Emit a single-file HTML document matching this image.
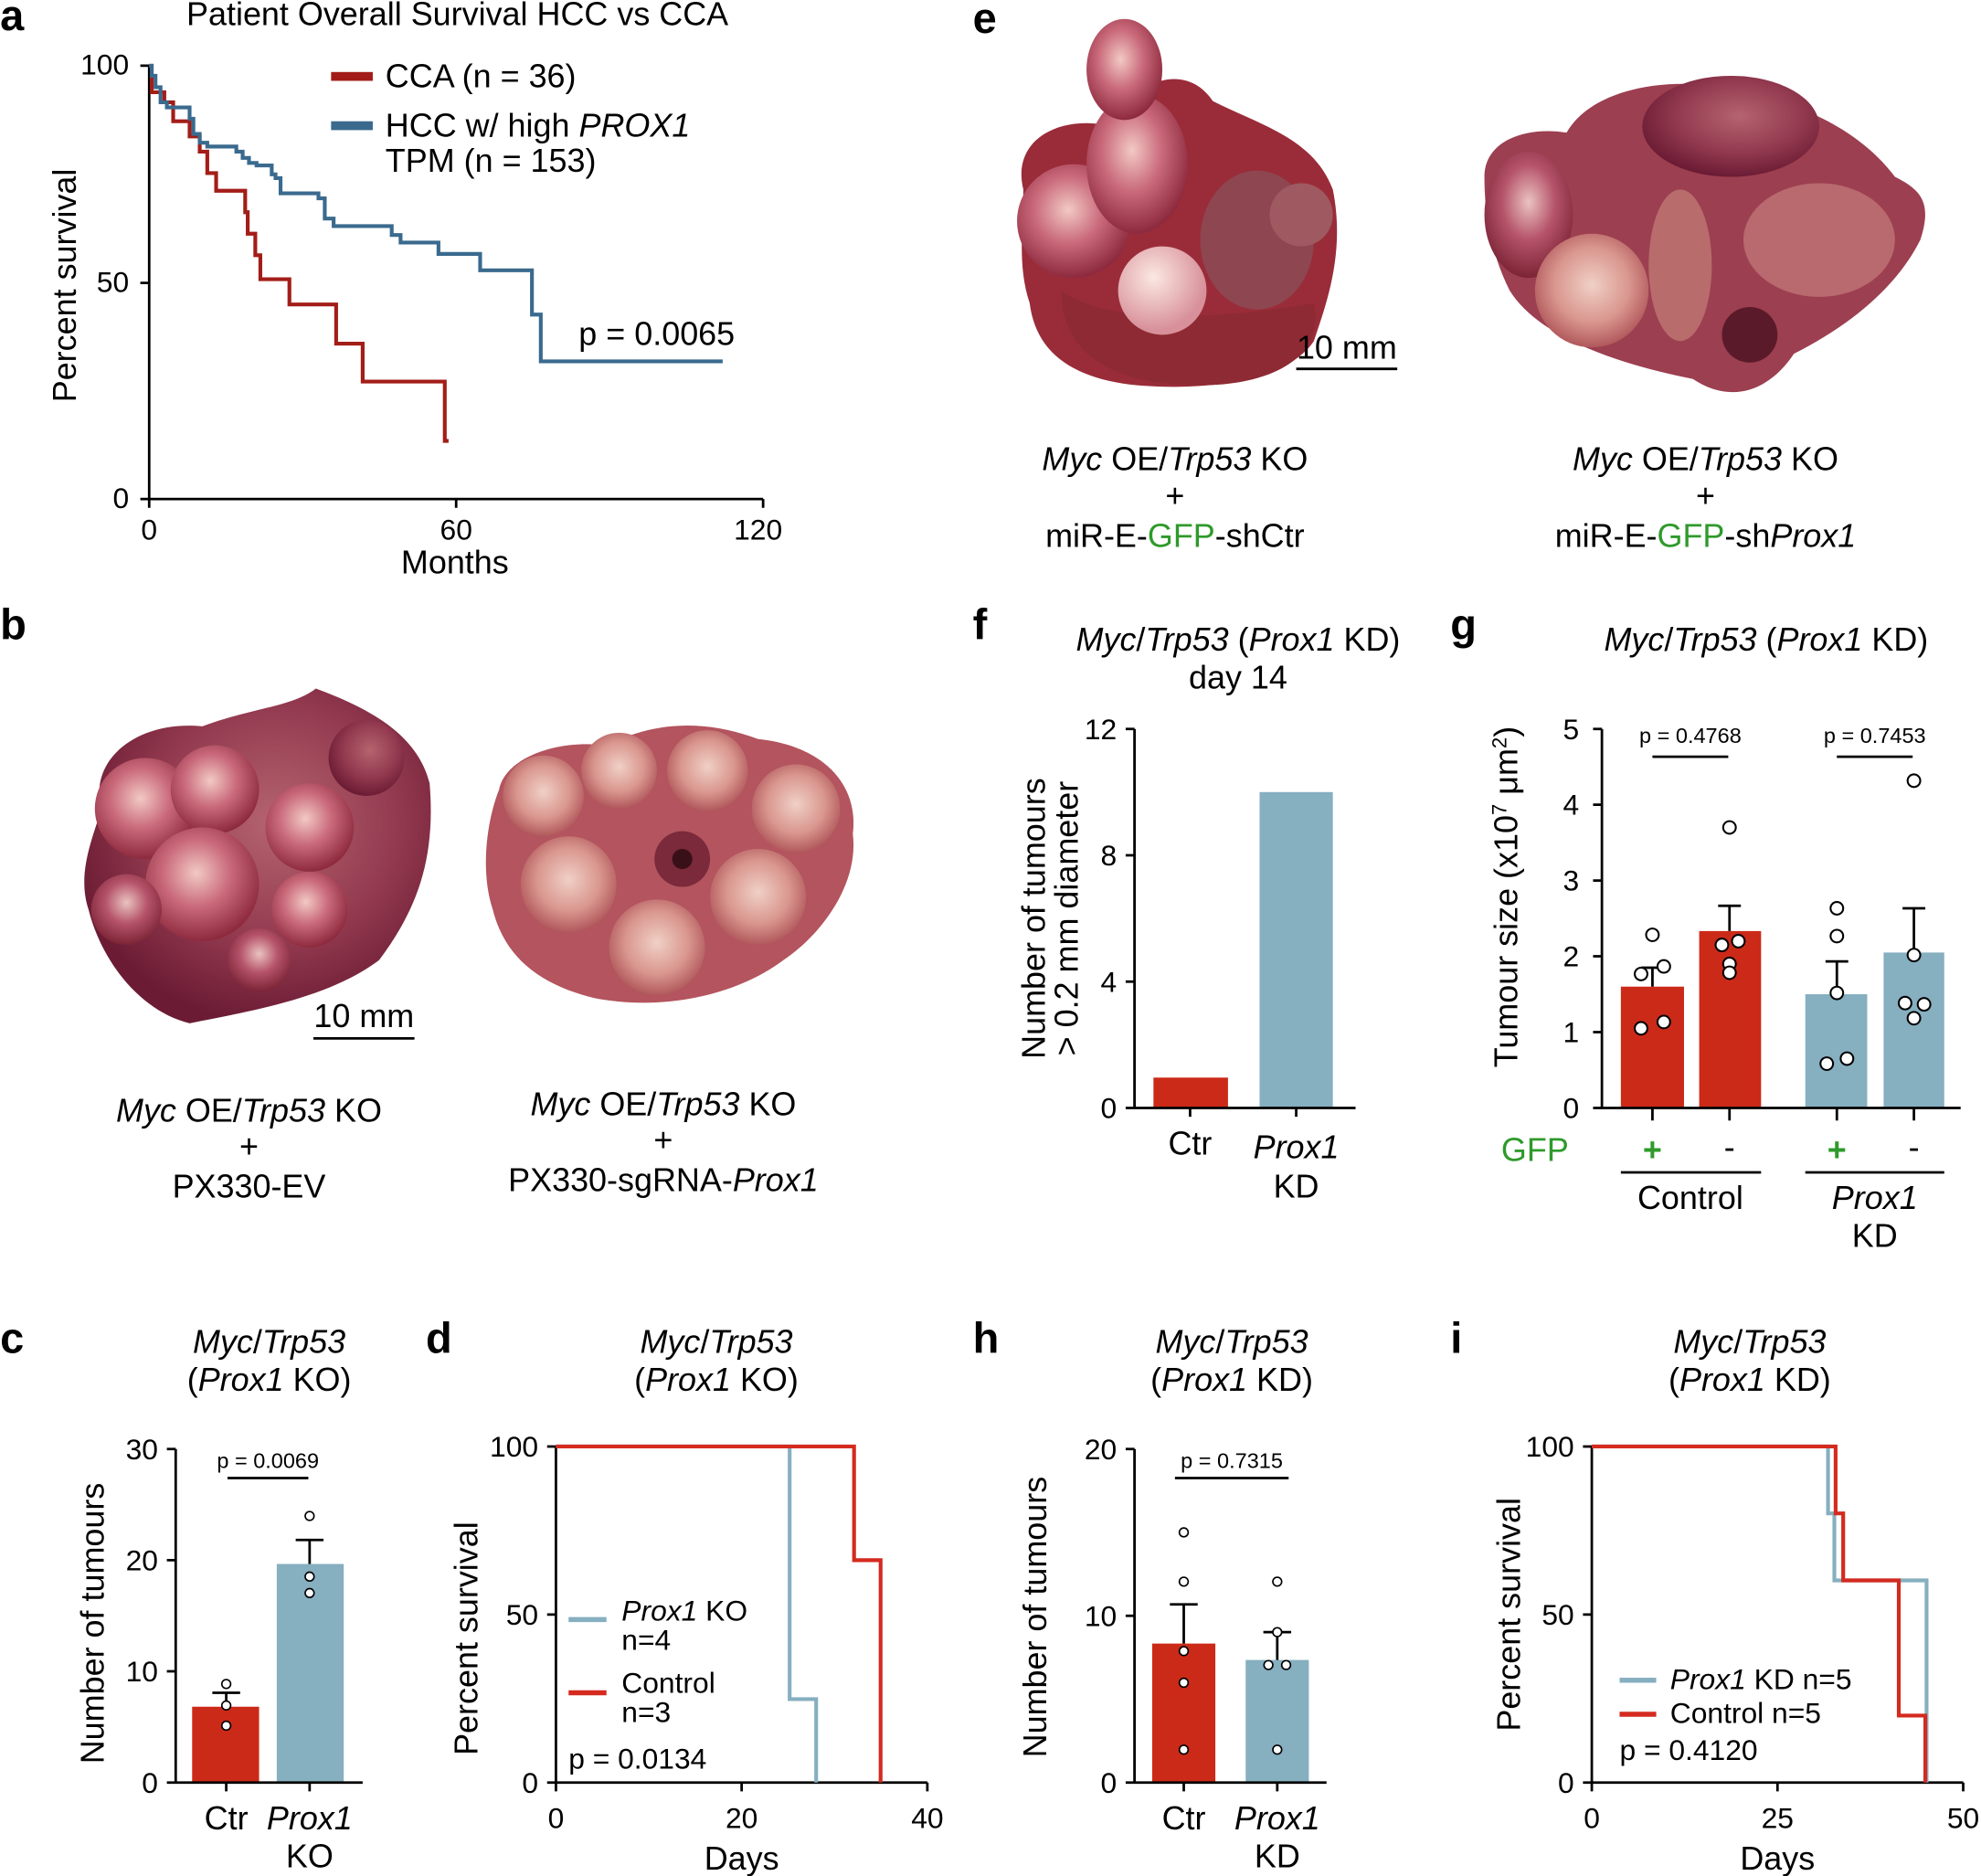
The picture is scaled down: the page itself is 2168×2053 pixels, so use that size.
<!DOCTYPE html>
<html><head><meta charset="utf-8"><style>
html,body{margin:0;padding:0;background:#fff}
svg{display:block}
text{font-family:"Liberation Sans",sans-serif;fill:#000}
.pl{font-weight:bold;font-size:34px}
.t{font-size:26px}
.k{font-size:23px}
.s{font-size:17px}
</style></head><body>
<svg width="2168" height="2053" viewBox="0 0 1568 1485" xmlns="http://www.w3.org/2000/svg">
<defs>
<radialGradient id="lv1" cx="45%" cy="40%" r="60%"><stop offset="0" stop-color="#f2c9c4"/><stop offset="0.5" stop-color="#c9697a"/><stop offset="1" stop-color="#8e2a3e"/></radialGradient>
<radialGradient id="lv2" cx="50%" cy="45%" r="60%"><stop offset="0" stop-color="#f0d0c6"/><stop offset="0.55" stop-color="#d9968e"/><stop offset="1" stop-color="#a84a50"/></radialGradient>
<radialGradient id="lv3" cx="50%" cy="40%" r="60%"><stop offset="0" stop-color="#eac3c0"/><stop offset="0.5" stop-color="#b5536a"/><stop offset="1" stop-color="#7c2436"/></radialGradient>
<radialGradient id="lv4" cx="55%" cy="40%" r="60%"><stop offset="0" stop-color="#b5646f"/><stop offset="0.6" stop-color="#92394f"/><stop offset="1" stop-color="#6b1c34"/></radialGradient>
<radialGradient id="nod" cx="40%" cy="35%" r="60%"><stop offset="0" stop-color="#fbe8e2"/><stop offset="1" stop-color="#d8909a"/></radialGradient>
</defs>

<!-- Panel a -->
<text class="pl" x="0" y="24">a</text>
<text class="t" x="362" y="20" text-anchor="middle">Patient Overall Survival HCC vs CCA</text>
<g stroke="#000" stroke-width="2" fill="none">
<path d="M118,52 V395 H604"/>
<path d="M111,52 H118 M111,224 H118 M111,395 H118 M118,395 V402 M361,395 V402 M604,395 V402"/>
</g>
<text class="k" x="102" y="59" text-anchor="end">100</text>
<text class="k" x="102" y="231" text-anchor="end">50</text>
<text class="k" x="102" y="402" text-anchor="end">0</text>
<text class="k" x="118" y="427" text-anchor="middle">0</text>
<text class="k" x="361" y="427" text-anchor="middle">60</text>
<text class="k" x="600" y="427" text-anchor="middle">120</text>
<text class="t" x="360" y="454" text-anchor="middle">Months</text>
<text class="t" transform="translate(60,226) rotate(-90)" text-anchor="middle">Percent survival</text>
<path d="M118,52 H120 V73 H130 V81 H137 V96 H150 V108 H158 V120 H164 V137 H171 V151 H194 V168 H196 V185 H202 V202 H206 V221 H229 V241 H266 V272 H287 V302 H352 V349 H355" fill="none" stroke="#a31d18" stroke-width="3"/>
<path d="M118,52 H120 V60 H123 V69 H127 V81 H132 V85 H150 V94 H153 V106 H158 V113 H164 V116 H187 V120 H192 V125 H197 V129 H203 V131 H215 V138 H218 V141 H222 V153 H252 V157 H257 V173 H264 V179 H310 V186 H317 V192 H347 V201 H380 V214 H421 V249 H428 V286 H572" fill="none" stroke="#3a6a8e" stroke-width="3"/>
<rect x="262" y="57" width="33" height="7" fill="#a31d18"/>
<rect x="262" y="96" width="33" height="7" fill="#3a6a8e"/>
<text class="t" x="305" y="69">CCA (n = 36)</text>
<text class="t" x="305" y="108">HCC w/ high <tspan font-style="italic">PROX1</tspan></text>
<text class="t" x="305" y="136">TPM (n = 153)</text>
<text class="t" x="458" y="273">p = 0.0065</text>

<!-- Panel b -->
<text class="pl" x="0" y="506">b</text>
<g>
<path d="M80,640 C70,600 110,570 160,575 C200,560 230,560 250,545 C290,560 330,580 340,620 C345,680 330,720 300,760 C260,790 200,800 150,810 C110,800 80,760 70,720 C60,690 75,660 80,640Z" fill="url(#lv4)"/>
<circle cx="115" cy="640" r="40" fill="url(#lv1)"/>
<circle cx="170" cy="625" r="35" fill="url(#lv1)"/>
<circle cx="160" cy="700" r="45" fill="url(#lv1)"/>
<circle cx="245" cy="655" r="35" fill="url(#lv1)"/>
<circle cx="245" cy="720" r="30" fill="url(#lv1)"/>
<circle cx="100" cy="720" r="28" fill="url(#lv3)"/>
<circle cx="205" cy="760" r="25" fill="url(#lv3)"/>
<circle cx="290" cy="600" r="30" fill="url(#lv4)"/>
</g>
<g>
<path d="M395,625 C400,600 440,585 480,590 C520,570 560,570 600,585 C650,590 680,620 675,660 C680,700 650,740 620,760 C580,790 520,800 470,790 C430,780 400,760 390,720 C380,690 385,650 395,625Z" fill="#b3545e"/>
<circle cx="430" cy="630" r="32" fill="url(#lv2)"/>
<circle cx="490" cy="610" r="30" fill="url(#lv2)"/>
<circle cx="560" cy="610" r="32" fill="url(#lv2)"/>
<circle cx="630" cy="640" r="35" fill="url(#lv2)"/>
<circle cx="450" cy="700" r="38" fill="url(#lv2)"/>
<circle cx="600" cy="710" r="38" fill="url(#lv2)"/>
<circle cx="520" cy="750" r="38" fill="url(#lv2)"/>
<circle cx="540" cy="680" r="22" fill="#7a2a3a"/>
<circle cx="540" cy="680" r="8" fill="#3a1018"/>
</g>
<line x1="248" y1="822" x2="328" y2="822" stroke="#000" stroke-width="2"/>
<text class="t" x="288" y="813" text-anchor="middle">10 mm</text>
<text class="t" x="197" y="888" text-anchor="middle"><tspan font-style="italic">Myc</tspan> OE/<tspan font-style="italic">Trp53</tspan> KO</text>
<text class="t" x="197" y="916" text-anchor="middle">+</text>
<text class="t" x="197" y="948" text-anchor="middle">PX330-EV</text>
<text class="t" x="525" y="883" text-anchor="middle"><tspan font-style="italic">Myc</tspan> OE/<tspan font-style="italic">Trp53</tspan> KO</text>
<text class="t" x="525" y="911" text-anchor="middle">+</text>
<text class="t" x="525" y="943" text-anchor="middle">PX330-sgRNA-<tspan font-style="italic">Prox1</tspan></text>

<!-- Panel e -->
<text class="pl" x="770" y="26">e</text>
<g>
<path d="M810,150 C800,110 840,90 880,100 C900,60 940,50 960,80 C1000,100 1040,110 1055,150 C1065,200 1050,240 1040,270 C1020,300 960,310 900,305 C850,300 820,280 815,240 C805,210 810,180 810,150Z" fill="#9a2c3a"/>
<path d="M840,230 C880,260 980,250 1040,240 C1050,280 1010,305 950,305 C880,305 840,280 840,230Z" fill="#8e2a33"/>
<circle cx="850" cy="175" r="45" fill="url(#lv1)"/>
<ellipse cx="900" cy="130" rx="40" ry="55" fill="url(#lv1)"/>
<ellipse cx="890" cy="55" rx="30" ry="40" fill="url(#lv1)"/>
<ellipse cx="995" cy="190" rx="45" ry="55" fill="#8e4650"/>
<circle cx="1030" cy="170" r="25" fill="#9e5a60"/>
<circle cx="920" cy="230" r="35" fill="url(#nod)"/>
</g>
<g>
<path d="M1175,140 C1175,110 1210,100 1240,105 C1260,70 1320,60 1370,70 C1420,80 1470,100 1500,140 C1520,150 1530,160 1520,190 C1500,230 1460,260 1420,280 C1400,310 1370,320 1340,300 C1290,290 1220,270 1195,230 C1180,200 1175,170 1175,140Z" fill="#9c3f50"/>
<ellipse cx="1210" cy="170" rx="35" ry="50" fill="url(#lv3)"/>
<ellipse cx="1370" cy="100" rx="70" ry="40" fill="url(#lv4)"/>
<ellipse cx="1260" cy="230" rx="45" ry="45" fill="url(#lv2)"/>
<ellipse cx="1330" cy="210" rx="25" ry="60" fill="#b86c6c"/>
<ellipse cx="1440" cy="190" rx="60" ry="45" fill="#b86a6e"/>
<circle cx="1385" cy="265" r="22" fill="#5a1a2a"/>
</g>
<line x1="1026" y1="292" x2="1106" y2="292" stroke="#000" stroke-width="2"/>
<text class="t" x="1066" y="284" text-anchor="middle">10 mm</text>
<text class="t" x="930" y="372" text-anchor="middle"><tspan font-style="italic">Myc</tspan> OE/<tspan font-style="italic">Trp53</tspan> KO</text>
<text class="t" x="930" y="401" text-anchor="middle">+</text>
<text class="t" x="930" y="433" text-anchor="middle">miR-E-<tspan style="fill:#2e9a2a">GFP</tspan>-shCtr</text>
<text class="t" x="1350" y="372" text-anchor="middle"><tspan font-style="italic">Myc</tspan> OE/<tspan font-style="italic">Trp53</tspan> KO</text>
<text class="t" x="1350" y="401" text-anchor="middle">+</text>
<text class="t" x="1350" y="433" text-anchor="middle">miR-E-<tspan style="fill:#2e9a2a">GFP</tspan>-sh<tspan font-style="italic">Prox1</tspan></text>

<!-- Panel f -->
<text class="pl" x="770" y="506">f</text>
<text class="t" x="980" y="515" text-anchor="middle"><tspan font-style="italic">Myc</tspan>/<tspan font-style="italic">Trp53</tspan> (<tspan font-style="italic">Prox1</tspan> KD)</text>
<text class="t" x="980" y="545" text-anchor="middle">day 14</text>
<rect x="913" y="853" width="59" height="24" fill="#cc2a18"/>
<rect x="997" y="627" width="58" height="250" fill="#86afc0"/>
<g stroke="#000" stroke-width="2" fill="none">
<path d="M898,577 V877 H1073 M891,577 H898 M891,677 H898 M891,777 H898 M891,877 H898 M942,877 V884 M1026,877 V884"/>
</g>
<text class="k" x="884" y="585" text-anchor="end">12</text>
<text class="k" x="884" y="685" text-anchor="end">8</text>
<text class="k" x="884" y="785" text-anchor="end">4</text>
<text class="k" x="884" y="885" text-anchor="end">0</text>
<text class="t" x="942" y="914" text-anchor="middle">Ctr</text>
<text class="t" x="1026" y="917" font-style="italic" text-anchor="middle">Prox1</text>
<text class="t" x="1026" y="948" text-anchor="middle">KD</text>
<text class="t" transform="translate(827,727) rotate(-90)" text-anchor="middle">Number of tumours</text>
<text class="t" transform="translate(853,727) rotate(-90)" text-anchor="middle">&gt; 0.2 mm diameter</text>

<!-- Panel g -->
<text class="pl" x="1148" y="506">g</text>
<text class="t" x="1398" y="515" text-anchor="middle"><tspan font-style="italic">Myc</tspan>/<tspan font-style="italic">Trp53</tspan> (<tspan font-style="italic">Prox1</tspan> KD)</text>
<rect x="1283" y="781" width="50" height="96" fill="#cc2a18"/>
<rect x="1345" y="737" width="49" height="140" fill="#cc2a18"/>
<rect x="1429" y="787" width="49" height="90" fill="#86afc0"/>
<rect x="1491" y="754" width="48" height="123" fill="#86afc0"/>
<g stroke="#000" stroke-width="2" fill="none">
<path d="M1268,577 V877 H1552"/>
<path d="M1261,577 H1268 M1261,637 H1268 M1261,697 H1268 M1261,757 H1268 M1261,817 H1268 M1261,877 H1268"/>
<path d="M1308,877 V887 M1369,877 V887 M1454,877 V887 M1515,877 V887"/>
<path d="M1308,781 V766 M1299,766 H1317 M1369,737 V717 M1360,717 H1378 M1454,787 V761 M1445,761 H1463 M1515,754 V719 M1506,719 H1524"/>
<path d="M1308,599 H1368 M1454,599 H1514 M1283,928 H1394 M1429,928 H1539"/>
</g>
<g stroke="#000" stroke-width="1.5" fill="#fff">
<circle cx="1308" cy="740" r="5"/><circle cx="1299" cy="771" r="5"/><circle cx="1317" cy="765" r="5"/><circle cx="1299" cy="814" r="5"/><circle cx="1317" cy="809" r="5"/>
<circle cx="1369" cy="655" r="5"/><circle cx="1363" cy="748" r="5"/><circle cx="1376" cy="745" r="5"/><circle cx="1369" cy="763" r="5"/><circle cx="1369" cy="770" r="5"/>
<circle cx="1454" cy="719" r="5"/><circle cx="1454" cy="741" r="5"/><circle cx="1454" cy="786" r="5"/><circle cx="1446" cy="842" r="5"/><circle cx="1462" cy="838" r="5"/>
<circle cx="1515" cy="618" r="5"/><circle cx="1515" cy="756" r="5"/><circle cx="1508" cy="794" r="5"/><circle cx="1523" cy="795" r="5"/><circle cx="1515" cy="806" r="5"/>
</g>
<text class="k" x="1250" y="585" text-anchor="end">5</text>
<text class="k" x="1250" y="645" text-anchor="end">4</text>
<text class="k" x="1250" y="705" text-anchor="end">3</text>
<text class="k" x="1250" y="765" text-anchor="end">2</text>
<text class="k" x="1250" y="825" text-anchor="end">1</text>
<text class="k" x="1250" y="885" text-anchor="end">0</text>
<text class="s" x="1338" y="588" text-anchor="middle">p = 0.4768</text>
<text class="s" x="1484" y="588" text-anchor="middle">p = 0.7453</text>
<text class="t" x="1215" y="919" text-anchor="middle" style="fill:#2e9a2a">GFP</text>
<text class="t" x="1308" y="919" text-anchor="middle" style="fill:#2e9a2a;font-weight:bold">+</text>
<text class="t" x="1369" y="917" text-anchor="middle">-</text>
<text class="t" x="1454" y="919" text-anchor="middle" style="fill:#2e9a2a;font-weight:bold">+</text>
<text class="t" x="1515" y="917" text-anchor="middle">-</text>
<text class="t" x="1338" y="957" text-anchor="middle">Control</text>
<text class="t" x="1484" y="957" font-style="italic" text-anchor="middle">Prox1</text>
<text class="t" x="1484" y="987" text-anchor="middle">KD</text>
<text class="t" transform="translate(1201,710) rotate(-90)" text-anchor="middle">Tumour size (x10<tspan baseline-shift="super" font-size="16">7</tspan> μm<tspan baseline-shift="super" font-size="16">2</tspan>)</text>

<!-- Panel c -->
<text class="pl" x="0" y="1071">c</text>
<text class="t" x="213" y="1071" font-style="italic" text-anchor="middle">Myc<tspan font-style="normal">/</tspan>Trp53</text>
<text class="t" x="213" y="1101" text-anchor="middle">(<tspan font-style="italic">Prox1</tspan> KO)</text>
<rect x="152" y="1351" width="53" height="60" fill="#cc2a18"/>
<rect x="219" y="1238" width="53" height="173" fill="#86afc0"/>
<g stroke="#000" stroke-width="2" fill="none">
<path d="M139,1147 V1411 H287 M132,1147 H139 M132,1235 H139 M132,1323 H139 M132,1411 H139 M179,1411 V1418 M245,1411 V1418"/>
<path d="M179,1351 V1340 M168,1340 H190 M245,1238 V1219 M234,1219 H256 M180,1170 H244"/>
</g>
<g stroke="#000" stroke-width="1.2" fill="#fff">
<circle cx="179" cy="1333" r="3.5"/><circle cx="179" cy="1350" r="3.5"/><circle cx="179" cy="1366" r="3.5"/>
<circle cx="245" cy="1200" r="3.5"/><circle cx="245" cy="1248" r="3.5"/><circle cx="245" cy="1261" r="3.5"/>
</g>
<text class="k" x="125" y="1155" text-anchor="end">30</text>
<text class="k" x="125" y="1243" text-anchor="end">20</text>
<text class="k" x="125" y="1331" text-anchor="end">10</text>
<text class="k" x="125" y="1419" text-anchor="end">0</text>
<text class="s" x="212" y="1162" text-anchor="middle">p = 0.0069</text>
<text class="t" x="179" y="1448" text-anchor="middle">Ctr</text>
<text class="t" x="245" y="1448" font-style="italic" text-anchor="middle">Prox1</text>
<text class="t" x="245" y="1478" text-anchor="middle">KO</text>
<text class="t" transform="translate(82,1285) rotate(-90)" text-anchor="middle">Number of tumours</text>

<!-- Panel d -->
<text class="pl" x="337" y="1071">d</text>
<text class="t" x="567" y="1071" font-style="italic" text-anchor="middle">Myc<tspan font-style="normal">/</tspan>Trp53</text>
<text class="t" x="567" y="1101" text-anchor="middle">(<tspan font-style="italic">Prox1</tspan> KO)</text>
<g stroke="#000" stroke-width="2" fill="none">
<path d="M440,1145 V1411 H734 M433,1145 H440 M433,1278 H440 M433,1411 H440 M440,1411 V1418 M587,1411 V1418 M734,1411 V1418"/>
</g>
<path d="M440,1145 H625 V1345 H646 V1411" fill="none" stroke="#86afc0" stroke-width="3"/>
<path d="M440,1145 H676 V1235 H697 V1411" fill="none" stroke="#d42a1f" stroke-width="3"/>
<text class="k" x="426" y="1153" text-anchor="end">100</text>
<text class="k" x="426" y="1286" text-anchor="end">50</text>
<text class="k" x="426" y="1419" text-anchor="end">0</text>
<text class="k" x="440" y="1447" text-anchor="middle">0</text>
<text class="k" x="587" y="1447" text-anchor="middle">20</text>
<text class="k" x="734" y="1447" text-anchor="middle">40</text>
<text class="t" x="587" y="1480" text-anchor="middle">Days</text>
<text class="t" transform="translate(378,1297) rotate(-90)" text-anchor="middle">Percent survival</text>
<line x1="450" y1="1282" x2="480" y2="1282" stroke="#86afc0" stroke-width="4"/>
<line x1="450" y1="1340" x2="480" y2="1340" stroke="#d42a1f" stroke-width="4"/>
<text class="k" x="492" y="1283"><tspan font-style="italic">Prox1</tspan> KO</text>
<text class="k" x="492" y="1306">n=4</text>
<text class="k" x="492" y="1340">Control</text>
<text class="k" x="492" y="1363">n=3</text>
<text class="k" x="450" y="1400">p = 0.0134</text>

<!-- Panel h -->
<text class="pl" x="770" y="1071">h</text>
<text class="t" x="975" y="1071" font-style="italic" text-anchor="middle">Myc<tspan font-style="normal">/</tspan>Trp53</text>
<text class="t" x="975" y="1101" text-anchor="middle">(<tspan font-style="italic">Prox1</tspan> KD)</text>
<rect x="912" y="1301" width="50" height="110" fill="#cc2a18"/>
<rect x="986" y="1314" width="50" height="97" fill="#86afc0"/>
<g stroke="#000" stroke-width="2" fill="none">
<path d="M898,1147 V1411 H1050 M891,1147 H898 M891,1279 H898 M891,1411 H898 M937,1411 V1418 M1011,1411 V1418"/>
<path d="M937,1301 V1270 M926,1270 H948 M1011,1314 V1292 M1000,1292 H1022 M930,1170 H1020"/>
</g>
<g stroke="#000" stroke-width="1.2" fill="#fff">
<circle cx="937" cy="1213" r="3.5"/><circle cx="937" cy="1252" r="3.5"/><circle cx="937" cy="1307" r="3.5"/><circle cx="937" cy="1332" r="3.5"/><circle cx="937" cy="1385" r="3.5"/>
<circle cx="1011" cy="1252" r="3.5"/><circle cx="1011" cy="1292" r="3.5"/><circle cx="1004" cy="1318" r="3.5"/><circle cx="1018" cy="1318" r="3.5"/><circle cx="1011" cy="1385" r="3.5"/>
</g>
<text class="k" x="884" y="1155" text-anchor="end">20</text>
<text class="k" x="884" y="1287" text-anchor="end">10</text>
<text class="k" x="884" y="1419" text-anchor="end">0</text>
<text class="s" x="975" y="1162" text-anchor="middle">p = 0.7315</text>
<text class="t" x="937" y="1448" text-anchor="middle">Ctr</text>
<text class="t" x="1011" y="1448" font-style="italic" text-anchor="middle">Prox1</text>
<text class="t" x="1011" y="1478" text-anchor="middle">KD</text>
<text class="t" transform="translate(828,1280) rotate(-90)" text-anchor="middle">Number of tumours</text>

<!-- Panel i -->
<text class="pl" x="1148" y="1071">i</text>
<text class="t" x="1385" y="1071" font-style="italic" text-anchor="middle">Myc<tspan font-style="normal">/</tspan>Trp53</text>
<text class="t" x="1385" y="1101" text-anchor="middle">(<tspan font-style="italic">Prox1</tspan> KD)</text>
<g stroke="#000" stroke-width="2" fill="none">
<path d="M1260,1145 V1411 H1554 M1253,1145 H1260 M1253,1278 H1260 M1253,1411 H1260 M1260,1411 V1418 M1407,1411 V1418 M1554,1411 V1418"/>
</g>
<path d="M1260,1145 H1447 V1198 H1452 V1251 H1525 V1411" fill="none" stroke="#86afc0" stroke-width="3"/>
<path d="M1260,1145 H1453 V1198 H1459 V1251 H1503 V1358 H1524 V1411" fill="none" stroke="#d42a1f" stroke-width="3"/>
<text class="k" x="1246" y="1153" text-anchor="end">100</text>
<text class="k" x="1246" y="1286" text-anchor="end">50</text>
<text class="k" x="1246" y="1419" text-anchor="end">0</text>
<text class="k" x="1260" y="1447" text-anchor="middle">0</text>
<text class="k" x="1407" y="1447" text-anchor="middle">25</text>
<text class="k" x="1554" y="1447" text-anchor="middle">50</text>
<text class="t" x="1407" y="1480" text-anchor="middle">Days</text>
<text class="t" transform="translate(1203,1278) rotate(-90)" text-anchor="middle">Percent survival</text>
<line x1="1282" y1="1330" x2="1311" y2="1330" stroke="#86afc0" stroke-width="4"/>
<line x1="1282" y1="1357" x2="1311" y2="1357" stroke="#d42a1f" stroke-width="4"/>
<text class="k" x="1322" y="1337"><tspan font-style="italic">Prox1</tspan> KD n=5</text>
<text class="k" x="1322" y="1364">Control n=5</text>
<text class="k" x="1282" y="1393">p = 0.4120</text>
</svg>
</body></html>
